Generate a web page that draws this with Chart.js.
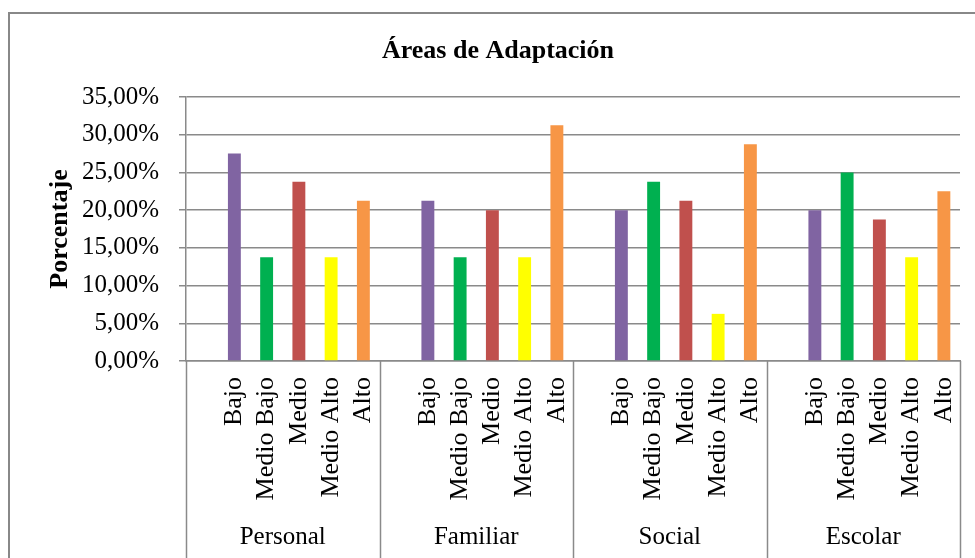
<!DOCTYPE html>
<html>
<head>
<meta charset="utf-8">
<script src="https://cdn.jsdelivr.net/npm/chart.js@4.4.1/dist/chart.umd.min.js"></script>
<style>
  html, body { margin: 0; padding: 0; background: #fff; }
  #wrap { position: relative; width: 975px; height: 558px; }
</style>
</head>
<body>
<div id="wrap"><canvas id="c" width="975" height="558"></canvas></div>
<script>
// ---- Data ----
const chartTitle = 'Áreas de Adaptación';
const yAxisTitle = 'Porcentaje';
const groups = ['Personal', 'Familiar', 'Social', 'Escolar'];
const levels = ['Bajo', 'Medio Bajo', 'Medio', 'Medio Alto', 'Alto'];
const levelColors = ['#8064A2', '#00B050', '#C0504D', '#FFFF00', '#F79646'];
const personal = [27.5, 13.75, 23.75, 13.75, 21.25];
const familiar = [21.25, 13.75, 20, 13.75, 31.25];
const social   = [20, 23.75, 21.25, 6.25, 28.75];
const escolar  = [20, 25, 18.75, 13.75, 22.5];
const yMin = 0, yMax = 35, yStep = 5;

// ---- Build category table (each group starts with an empty slot, as in the source) ----
const seriesByGroup = [personal, familiar, social, escolar];
const labels = [], values = [], colors = [];
seriesByGroup.forEach(vals => {
  labels.push(''); values.push(null); colors.push('rgba(0,0,0,0)');
  vals.forEach((v, i) => { labels.push(levels[i]); values.push(v); colors.push(levelColors[i]); });
});

const FONT = "'Liberation Serif', 'Times New Roman', serif";
const GRID = '#8a8a8a';

const decor = {
  id: 'decor',
  beforeDraw(chart) {
    const ctx = chart.ctx;
    ctx.save();
    ctx.strokeStyle = '#888888';
    ctx.lineWidth = 2;
    ctx.beginPath();
    ctx.moveTo(9, chart.height + 2);
    ctx.lineTo(9, 13);
    ctx.lineTo(chart.width + 2, 13);
    ctx.stroke();
    ctx.restore();
  },
  afterDraw(chart) {
    const ctx = chart.ctx;
    const a = chart.chartArea;
    const x = chart.scales.x;
    ctx.save();
    // title
    ctx.fillStyle = '#000';
    ctx.font = 'bold 26px ' + FONT;
    ctx.textAlign = 'center';
    ctx.textBaseline = 'alphabetic';
    ctx.fillText(chartTitle, 498, 58);
    // group separators and labels
    const gw = (x.right - x.left) / groups.length;
    ctx.strokeStyle = GRID;
    ctx.lineWidth = 1.5;
    for (let k = 0; k <= groups.length; k++) {
      const px = Math.round(x.left + k * gw) + 0.5;
      ctx.beginPath();
      ctx.moveTo(px, a.bottom);
      ctx.lineTo(px, chart.height);
      ctx.stroke();
    }
    ctx.font = '25px ' + FONT;
    ctx.fillStyle = '#000';
    groups.forEach((g, k) => {
      ctx.fillText(g, x.left + (k + 0.5) * gw, 544);
    });
    ctx.restore();
  }
};

new Chart(document.getElementById('c'), {
  type: 'bar',
  data: {
    labels: labels,
    datasets: [{
      data: values,
      backgroundColor: colors,
      borderWidth: 0,
      categoryPercentage: 1.0,
      barPercentage: 0.4
    }]
  },
  options: {
    responsive: false,
    animation: false,
    layout: { padding: { top: 97, right: 15, bottom: 0, left: 0 } },
    plugins: { legend: { display: false }, tooltip: { enabled: false }, title: { display: false } },
    scales: {
      x: {
        afterFit(s) { s.height = 197; s.paddingLeft = 0; s.paddingRight = 0; },
        grid: { display: false, drawTicks: false },
        border: { display: true, color: GRID, width: 1.5 },
        ticks: {
          autoSkip: false, minRotation: 90, maxRotation: 90,
          padding: 16, color: '#000',
          font: { family: FONT, size: 26 }
        }
      },
      y: {
        min: yMin, max: yMax,
        afterFit(s) { s.width = 186; s.paddingTop = 0; s.paddingBottom = 0; },
        grid: { color: GRID, lineWidth: 1.5, tickLength: 7, drawTicks: true },
        border: { display: true, color: GRID, width: 1.5 },
        ticks: {
          stepSize: yStep, padding: 20, color: '#000',
          font: { family: FONT, size: 25 },
          callback: v => v.toFixed(2).replace('.', ',') + '%'
        },
        title: {
          display: true, text: yAxisTitle, color: '#000',
          font: { family: FONT, size: 26, weight: 'bold', lineHeight: 1 },
          padding: { top: 47, bottom: 0 }
        }
      }
    }
  },
  plugins: [decor]
});
</script>
</body>
</html>
